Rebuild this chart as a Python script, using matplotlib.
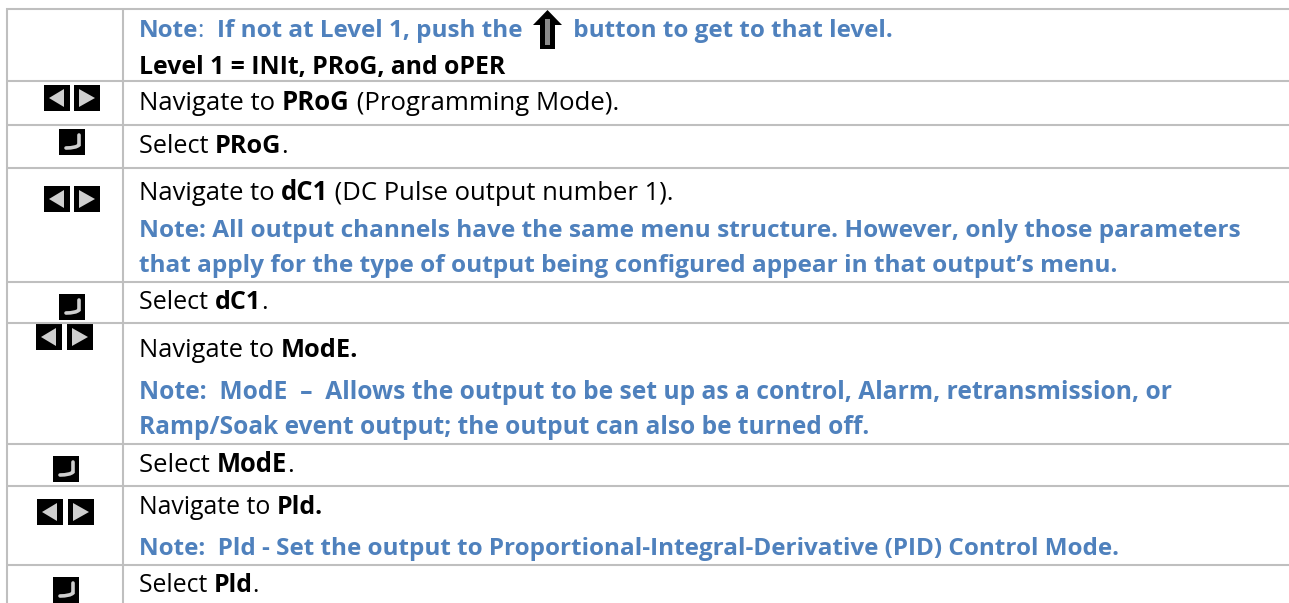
import matplotlib
matplotlib.use("Agg")
import matplotlib.pyplot as plt
from matplotlib.patches import Rectangle, Polygon, PathPatch
from matplotlib.path import Path

BLUE = "#4F81BD"
BLACK = "#000000"
GRID = "#BFBFBF"
W, H = 1289, 603
FONT = "Open Sans"
SIZE = 17.5

# table rules (pixel rows / columns of the table)
h_rules = [9, 81, 125, 168, 282, 323, 444, 486, 565]
v_rules = [7, 123]

# text lines: (baseline, right end, [(text, bold, colour), ...])
lines = [
    (37, 892, [("Note", True, BLUE), (":  ", False, BLUE), ("If not at Level 1, push the ", True, BLUE),
               ("@ARROW", True, BLUE), (" button to get to that level.", True, BLUE)]),
    (74, 504, [("Level 1 = INIt, PRoG, and oPER", True, BLACK)]),
    (110, 618, [("Navigate to ", False, BLACK), ("PRoG", True, BLACK), (" (Programming Mode).", False, BLACK)]),
    (153, 288, [("Select ", False, BLACK), ("PRoG", True, BLACK), (".", False, BLACK)]),
    (200, 672, [("Navigate to ", False, BLACK), ("dC1", True, BLACK), (" (DC Pulse output number 1).", False, BLACK)]),
    (237, 1240, [("Note: All output channels have the same menu structure. However, only those parameters", True, BLUE)]),
    (272, 1117, [("that apply for the type of output being configured appear in that output\u2019s menu.", True, BLUE)]),
    (309, 267, [("Select ", False, BLACK), ("dC1", True, BLACK), (".", False, BLACK)]),
    (357, 357, [("Navigate to ", False, BLACK), ("ModE.", True, BLACK)]),
    (399, 1170, [("Note:  ModE  \u2013  Allows the output to be set up as a control, Alarm, retransmission, or", True, BLUE)]),
    (434, 869, [("Ramp/Soak event output; the output can also be turned off.", True, BLUE)]),
    (472, 293, [("Select ", False, BLACK), ("ModE", True, BLACK), (".", False, BLACK)]),
    (514, 323, [("Navigate to ", False, BLACK), ("Pld.", True, BLACK)]),
    (555, 1117, [("Note:  Pld - Set the output to Proportional-Integral-Derivative (PID) Control Mode.", True, BLUE)]),
    (592, 259, [("Select ", False, BLACK), ("Pld", True, BLACK), (".", False, BLACK)]),
]
TEXT_X = 139
ARROW_ADVANCE = 38

# button icons: (left x, top y, right-button x) and (left x, top y)
arrow_pairs = [(44, 85, 74), (44, 186, 74), (36, 324, 67), (37, 499, 68)]
enter_keys = [(59, 129), (59, 294), (53, 456), (53, 577)]

fig = plt.figure(figsize=(W / 100, H / 100), dpi=100, facecolor="white")
ax = fig.add_axes([0, 0, 1, 1])
ax.set_xlim(0, W)
ax.set_ylim(H, 0)
ax.axis("off")

for y in h_rules:
    ax.plot([6, W], [y, y], color=GRID, lw=1.5, solid_capstyle="butt")
for x in v_rules:
    ax.plot([x, x], [8, H], color=GRID, lw=1.5, solid_capstyle="butt")

def up_arrow(x):
    ax.add_patch(Polygon([(x, 25), (x + 14.5, 10), (x + 29, 25), (x + 22, 25), (x + 22, 49),
                          (x + 7, 49), (x + 7, 25)], closed=True, fc="black", ec="none"))
    ax.add_patch(Rectangle((x + 12, 19), 5, 26, fc="#8A8A8A", ec="none"))

renderer = fig.canvas.get_renderer()

def run_width(text, bold, size):
    probe = ax.text(0, 0, text.replace(" ", "\u00a0"), fontsize=size, family=FONT,
                    fontweight="bold" if bold else "normal")
    w = probe.get_window_extent(renderer).width
    probe.remove()
    return w

for base, end, runs in lines:
    natural = sum(run_width(t, b, SIZE) for t, b, c in runs if t != "@ARROW")
    avail = end - TEXT_X - sum(ARROW_ADVANCE for t, b, c in runs if t == "@ARROW")
    size = SIZE * avail / natural
    x = TEXT_X
    for text, bold, col in runs:
        if text == "@ARROW":
            up_arrow(x + 4)
            x += ARROW_ADVANCE
            continue
        ax.text(x, base, text, fontsize=size, family=FONT, color=col,
                fontweight="bold" if bold else "normal", ha="left", va="baseline")
        x += run_width(text, bold, size)

def lr_pair(xl, y, xr):
    s = 26
    ax.add_patch(Rectangle((xl, y), s, s, fc="black", ec="none"))
    ax.add_patch(Rectangle((xr, y), s, s, fc="black", ec="none"))
    ax.add_patch(Polygon([(xl + 5, y + 13), (xl + 20, y + 4), (xl + 20, y + 22)], fc="#CFCFCF", ec="none"))
    ax.add_patch(Polygon([(xr + 5, y + 4), (xr + 5, y + 22), (xr + 21, y + 13)], fc="#CFCFCF", ec="none"))

def enter(x, y):
    ax.add_patch(Rectangle((x, y), 26, 25.5, fc="black", ec="none"))
    p = Path([(x + 20, y + 6), (x + 20, y + 16), (x + 17, y + 19), (x + 7, y + 19)],
             [Path.MOVETO, Path.LINETO, Path.CURVE3, Path.CURVE3])
    ax.add_patch(PathPatch(p, fc="none", ec="#CFCFCF", lw=2.6, capstyle="round"))

for a in arrow_pairs:
    lr_pair(*a)
for e in enter_keys:
    enter(*e)

fig.savefig("out.png", dpi=100, facecolor="white")
